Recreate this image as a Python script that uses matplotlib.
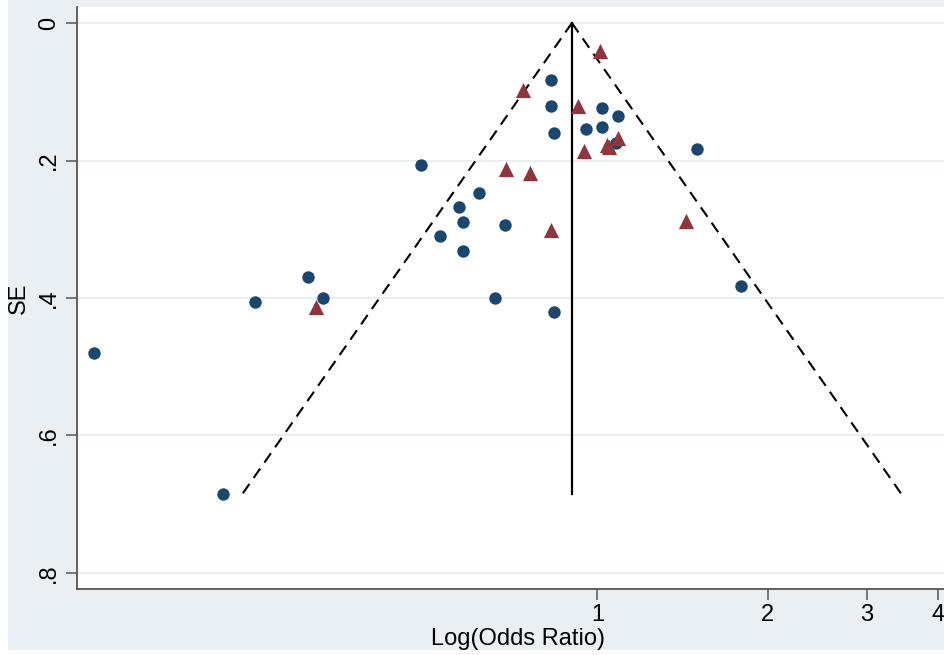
import numpy as np
import matplotlib
matplotlib.use("Agg")
import matplotlib.pyplot as plt
from matplotlib.patches import Rectangle

plt.rcParams['font.family'] = ['Liberation Sans', 'DejaVu Sans']

# study estimates (odds ratios) and standard errors
blue_or = [0.1285, 0.2174, 0.2476, 0.3073, 0.3267, 0.4871, 0.5262, 0.5686,
           0.5779, 0.5779, 0.6170, 0.6860, 0.6586, 0.8274, 0.8274, 0.8375,
           0.8375, 0.954, 1.0185, 1.0185, 1.087, 1.078, 1.500, 1.795]
blue_se = [0.480, 0.685, 0.406, 0.369, 0.400, 0.2065, 0.310, 0.268,
           0.2895, 0.332, 0.247, 0.294, 0.400, 0.083, 0.121, 0.160,
           0.420, 0.154, 0.124, 0.151, 0.135, 0.175, 0.183, 0.383]

red_or = [0.3175, 0.738, 0.6887, 0.7596, 0.8274, 0.9236, 1.010, 0.9465,
          1.039, 1.048, 1.087, 1.434]
red_se = [0.413, 0.0975, 0.212, 0.218, 0.301, 0.121, 0.041, 0.186,
          0.177, 0.180, 0.167, 0.288]

pooled_or = 0.901
z = 1.96

xticks = [1, 2, 3, 4]
yticks = [0, 0.2, 0.4, 0.6, 0.8]
ytick_labels = ['0', '.2', '.4', '.6', '.8']

bg = '#e9eff3'
navy = '#1a476f'
maroon = '#90353b'

fig = plt.figure(figsize=(9.44, 6.55), dpi=100)
fig.patch.set_facecolor('white')
fig.patches.append(Rectangle((8 / 944, 5 / 655), 1, 1, transform=fig.transFigure,
                             facecolor=bg, edgecolor='none', zorder=-10))

ax = fig.add_axes([77 / 944, 1 - 589 / 655, (959 - 77) / 944, (589 - 7) / 655])
ax.set_facecolor('white')

# funnel: pooled estimate +/- 1.96 * SE on the log scale
se_max = max(max(blue_se), max(red_se))
se_line = np.array([0, se_max])
lo = np.exp(np.log(pooled_or) - z * se_line)
hi = np.exp(np.log(pooled_or) + z * se_line)
ax.plot(lo, se_line, color='black', ls=(0, (5.5, 3.5)), lw=1.5, zorder=2)
ax.plot(hi, se_line, color='black', ls=(0, (5.5, 3.5)), lw=1.5, zorder=2)
ax.plot([pooled_or, pooled_or], se_line, color='black', lw=1.6, zorder=2)

ax.scatter(blue_or, blue_se, s=80, marker='o', color=navy, linewidths=0, zorder=3)
ax.scatter(red_or, red_se, s=120, marker='^', color=maroon, linewidths=0, zorder=4)

ax.set_xscale('log')
ax.set_xlim(0.1199, 4.364)
ax.set_ylim(0.8233, -0.0233)

ax.set_xticks(xticks)
ax.set_xticklabels([str(t) for t in xticks])
ax.xaxis.set_minor_locator(matplotlib.ticker.NullLocator())
ax.set_yticks(yticks)
ax.set_yticklabels(ytick_labels, rotation=90, va='center')

ax.grid(axis='y', color='#e6eef1', lw=1.3, zorder=0)
ax.grid(axis='x', visible=False)

for s in ['top', 'right']:
    ax.spines[s].set_visible(False)
for s in ['left', 'bottom']:
    ax.spines[s].set_color('#555555')
    ax.spines[s].set_linewidth(1.3)

ax.tick_params(axis='both', direction='out', length=8, width=1.1,
               color='#555555', labelsize=17, labelcolor='black', pad=4)
ax.tick_params(axis='x', pad=3)

ax.set_xlabel('Log(Odds Ratio)', fontsize=17, labelpad=1)
ax.set_ylabel('SE', fontsize=17, labelpad=6)

fig.savefig('out.png', dpi=100, facecolor=fig.get_facecolor())
